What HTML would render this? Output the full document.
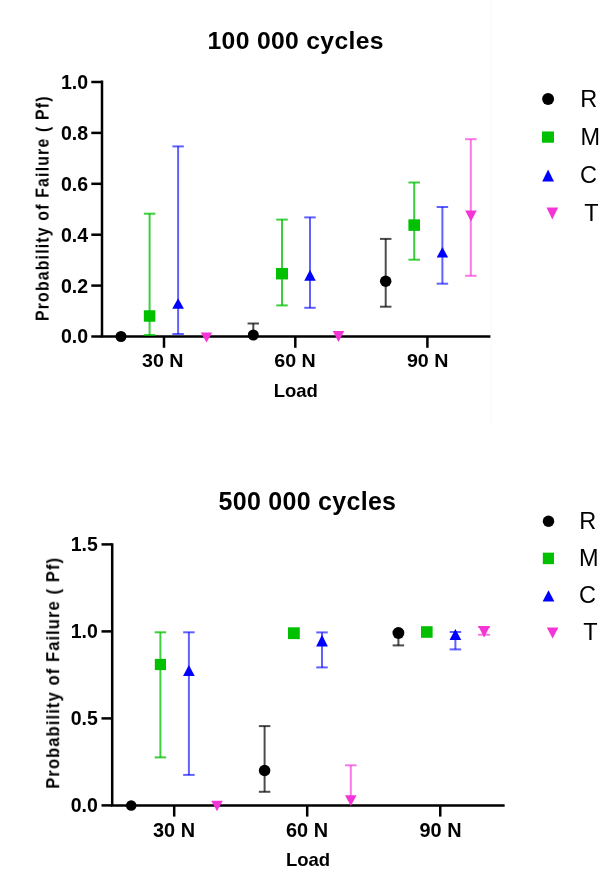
<!DOCTYPE html><html><head><meta charset="utf-8"><style>html,body{margin:0;padding:0;background:#fff;}svg{display:block;font-family:"Liberation Sans",sans-serif;}text{will-change:transform;}</style></head><body>
<svg width="600" height="869" viewBox="0 0 600 869">
<rect width="600" height="869" fill="#fff"/>
<rect x="490.3" y="0" width="1.5" height="424" fill="#fbfbfb"/>
<path d="M102,81.8V336.5H489.15" stroke="#000" stroke-width="2.5" fill="none" stroke-linecap="square"/>
<path d="M91.3,336.5H102" stroke="#000" stroke-width="2.5"/>
<text x="88.1" y="343.4" font-size="19.5" font-weight="bold" text-anchor="end">0.0</text>
<path d="M91.3,285.6H102" stroke="#000" stroke-width="2.5"/>
<text x="88.1" y="292.5" font-size="19.5" font-weight="bold" text-anchor="end">0.2</text>
<path d="M91.3,234.7H102" stroke="#000" stroke-width="2.5"/>
<text x="88.1" y="241.6" font-size="19.5" font-weight="bold" text-anchor="end">0.4</text>
<path d="M91.3,183.8H102" stroke="#000" stroke-width="2.5"/>
<text x="88.1" y="190.7" font-size="19.5" font-weight="bold" text-anchor="end">0.6</text>
<path d="M91.3,132.9H102" stroke="#000" stroke-width="2.5"/>
<text x="88.1" y="139.8" font-size="19.5" font-weight="bold" text-anchor="end">0.8</text>
<path d="M91.3,82H102" stroke="#000" stroke-width="2.5"/>
<text x="88.1" y="88.9" font-size="19.5" font-weight="bold" text-anchor="end">1.0</text>
<path d="M164,336.5V347.8" stroke="#000" stroke-width="2.5"/>
<path d="M295.3,336.5V347.8" stroke="#000" stroke-width="2.5"/>
<path d="M427.4,336.5V347.8" stroke="#000" stroke-width="2.5"/>
<text x="162.75" y="367.3" font-size="19" font-weight="bold" text-anchor="middle" textLength="41.5" lengthAdjust="spacingAndGlyphs">30 N</text>
<text x="295" y="367.3" font-size="19" font-weight="bold" text-anchor="middle" textLength="41.5" lengthAdjust="spacingAndGlyphs">60 N</text>
<text x="427.65" y="367.3" font-size="19" font-weight="bold" text-anchor="middle" textLength="41.5" lengthAdjust="spacingAndGlyphs">90 N</text>
<text x="295.75" y="396.5" font-size="18.5" font-weight="bold" text-anchor="middle">Load</text>
<text x="207.5" y="48.9" font-size="24.7" font-weight="bold" text-anchor="start" textLength="176" lengthAdjust="spacing">100 000 cycles</text>
<text transform="translate(48.6,321) rotate(-90) scale(0.9,1)" font-size="17.6" font-weight="bold" textLength="249.44" lengthAdjust="spacing">Probability of Failure ( Pf)</text>
<circle cx="548.1" cy="99.1" r="6" fill="#000000"/>
<rect x="542" y="131.45" width="12" height="11.3" fill="#00C000"/>
<polygon points="548.1,169.6 554,181.4 542.2,181.4" fill="#0000FF"/>
<polygon points="546.5,207.6 558.1,207.6 552.3,219.4" fill="#F434D6"/>
<text x="580.35" y="106.85" font-size="23.5" font-weight="normal" text-anchor="start">R</text>
<text x="580.45" y="144.65" font-size="23.5" font-weight="normal" text-anchor="start">M</text>
<text x="579.95" y="183" font-size="23.5" font-weight="normal" text-anchor="start">C</text>
<text x="584.35" y="221.3" font-size="23.5" font-weight="normal" text-anchor="start">T</text>
<circle cx="121" cy="336.5" r="5.5" fill="#000000"/>
<path d="M253.3,323.5V335" stroke="#000000" stroke-opacity="0.7" stroke-width="2.0"/>
<path d="M247.55,323.5H259.05" stroke="#000000" stroke-opacity="0.7" stroke-width="2.0"/>
<circle cx="253.3" cy="335" r="5.5" fill="#000000"/>
<path d="M385.7,238.9V306.7" stroke="#000000" stroke-opacity="0.7" stroke-width="2.0"/>
<path d="M379.95,238.9H391.45" stroke="#000000" stroke-opacity="0.7" stroke-width="2.0"/>
<path d="M379.95,306.7H391.45" stroke="#000000" stroke-opacity="0.7" stroke-width="2.0"/>
<circle cx="385.7" cy="281.3" r="5.75" fill="#000000"/>
<path d="M149.6,213.7V335" stroke="#00C000" stroke-opacity="0.76" stroke-width="2.0"/>
<path d="M143.85,213.7H155.35" stroke="#00C000" stroke-opacity="0.76" stroke-width="2.0"/>
<path d="M143.85,335H155.35" stroke="#00C000" stroke-opacity="0.76" stroke-width="2.0"/>
<rect x="143.85" y="310.25" width="11.5" height="11.5" fill="#00C000"/>
<path d="M282,219.6V305.4" stroke="#00C000" stroke-opacity="0.76" stroke-width="2.0"/>
<path d="M276.25,219.6H287.75" stroke="#00C000" stroke-opacity="0.76" stroke-width="2.0"/>
<path d="M276.25,305.4H287.75" stroke="#00C000" stroke-opacity="0.76" stroke-width="2.0"/>
<rect x="276" y="267.95" width="12" height="11.5" fill="#00C000"/>
<path d="M414.2,182.5V259.7" stroke="#00C000" stroke-opacity="0.76" stroke-width="2.0"/>
<path d="M408.45,182.5H419.95" stroke="#00C000" stroke-opacity="0.76" stroke-width="2.0"/>
<path d="M408.45,259.7H419.95" stroke="#00C000" stroke-opacity="0.76" stroke-width="2.0"/>
<rect x="408.4" y="219.35" width="11.6" height="11.5" fill="#00C000"/>
<path d="M178.1,146.4V334" stroke="#0000FF" stroke-opacity="0.62" stroke-width="2.0"/>
<path d="M172.35,146.4H183.85" stroke="#0000FF" stroke-opacity="0.62" stroke-width="2.0"/>
<path d="M172.35,334H183.85" stroke="#0000FF" stroke-opacity="0.62" stroke-width="2.0"/>
<polygon points="178.1,298.2 183.95,308.8 172.25,308.8" fill="#0000FF"/>
<path d="M310,217.4V307.8" stroke="#0000FF" stroke-opacity="0.62" stroke-width="2.0"/>
<path d="M304.25,217.4H315.75" stroke="#0000FF" stroke-opacity="0.62" stroke-width="2.0"/>
<path d="M304.25,307.8H315.75" stroke="#0000FF" stroke-opacity="0.62" stroke-width="2.0"/>
<polygon points="310,269.7 315.75,280.7 304.25,280.7" fill="#0000FF"/>
<path d="M442.4,207V283.7" stroke="#0000FF" stroke-opacity="0.62" stroke-width="2.0"/>
<path d="M436.65,207H448.15" stroke="#0000FF" stroke-opacity="0.62" stroke-width="2.0"/>
<path d="M436.65,283.7H448.15" stroke="#0000FF" stroke-opacity="0.62" stroke-width="2.0"/>
<polygon points="442.4,247 448.15,257.6 436.65,257.6" fill="#0000FF"/>
<polygon points="200.75,332.4 212.25,332.4 206.5,342.5" fill="#F434D6"/>
<polygon points="332.75,331 344.25,331 338.5,342" fill="#F434D6"/>
<path d="M470.8,139.2V275.8" stroke="#F434D6" stroke-opacity="0.66" stroke-width="2.0"/>
<path d="M465.05,139.2H476.55" stroke="#F434D6" stroke-opacity="0.66" stroke-width="2.0"/>
<path d="M465.05,275.8H476.55" stroke="#F434D6" stroke-opacity="0.66" stroke-width="2.0"/>
<polygon points="465.15,210.6 476.75,210.6 470.95,221.4" fill="#F434D6"/>
<path d="M112.2,544.4V805.4H503.4" stroke="#000" stroke-width="2.5" fill="none" stroke-linecap="square"/>
<path d="M101.5,805.4H112.2" stroke="#000" stroke-width="2.5"/>
<text x="97.8" y="812.2" font-size="19.5" font-weight="bold" text-anchor="end">0.0</text>
<path d="M101.5,718.4H112.2" stroke="#000" stroke-width="2.5"/>
<text x="97.8" y="725.2" font-size="19.5" font-weight="bold" text-anchor="end">0.5</text>
<path d="M101.5,631.4H112.2" stroke="#000" stroke-width="2.5"/>
<text x="97.8" y="638.2" font-size="19.5" font-weight="bold" text-anchor="end">1.0</text>
<path d="M101.5,544.4H112.2" stroke="#000" stroke-width="2.5"/>
<text x="97.8" y="551.2" font-size="19.5" font-weight="bold" text-anchor="end">1.5</text>
<path d="M174.2,805.4V816.6" stroke="#000" stroke-width="2.5"/>
<path d="M307.2,805.4V816.6" stroke="#000" stroke-width="2.5"/>
<path d="M440.25,805.4V816.6" stroke="#000" stroke-width="2.5"/>
<text x="174" y="836.8" font-size="19.5" font-weight="bold" text-anchor="middle" textLength="42" lengthAdjust="spacingAndGlyphs">30 N</text>
<text x="307" y="836.8" font-size="19.5" font-weight="bold" text-anchor="middle" textLength="42" lengthAdjust="spacingAndGlyphs">60 N</text>
<text x="440.5" y="836.8" font-size="19.5" font-weight="bold" text-anchor="middle" textLength="42" lengthAdjust="spacingAndGlyphs">90 N</text>
<text x="308" y="866.3" font-size="18.5" font-weight="bold" text-anchor="middle">Load</text>
<text x="218.5" y="509.5" font-size="25" font-weight="bold" text-anchor="start" textLength="177.5" lengthAdjust="spacing">500 000 cycles</text>
<text transform="translate(59.2,788.7) rotate(-90) scale(0.9,1)" font-size="18.4" font-weight="bold" textLength="256.44" lengthAdjust="spacing">Probability of Failure ( Pf)</text>
<circle cx="548.5" cy="521.3" r="5.75" fill="#000000"/>
<rect x="542.8" y="552.65" width="11.2" height="11.5" fill="#00C000"/>
<polygon points="548.5,590.2 554.4,601.6 542.6,601.6" fill="#0000FF"/>
<polygon points="546.8,627.6 558.4,627.6 552.6,638.5" fill="#F434D6"/>
<text x="579.35" y="529.3" font-size="23.5" font-weight="normal" text-anchor="start">R</text>
<text x="579.05" y="565.6" font-size="23.5" font-weight="normal" text-anchor="start">M</text>
<text x="579.05" y="603" font-size="23.5" font-weight="normal" text-anchor="start">C</text>
<text x="583.25" y="640.4" font-size="23.5" font-weight="normal" text-anchor="start">T</text>
<circle cx="131.2" cy="805.5" r="5.25" fill="#000000"/>
<path d="M264.6,726.1V791.8" stroke="#000000" stroke-opacity="0.7" stroke-width="2.0"/>
<path d="M258.85,726.1H270.35" stroke="#000000" stroke-opacity="0.7" stroke-width="2.0"/>
<path d="M258.85,791.8H270.35" stroke="#000000" stroke-opacity="0.7" stroke-width="2.0"/>
<circle cx="264.6" cy="770.5" r="5.75" fill="#000000"/>
<path d="M398.4,631.5V645.4" stroke="#000000" stroke-opacity="0.7" stroke-width="2.0"/>
<path d="M392.65,631.5H404.15" stroke="#000000" stroke-opacity="0.7" stroke-width="2.0"/>
<path d="M392.65,645.4H404.15" stroke="#000000" stroke-opacity="0.7" stroke-width="2.0"/>
<circle cx="398.4" cy="633" r="5.9" fill="#000000"/>
<path d="M160.4,632.3V757.4" stroke="#00C000" stroke-opacity="0.76" stroke-width="2.0"/>
<path d="M154.65,632.3H166.15" stroke="#00C000" stroke-opacity="0.76" stroke-width="2.0"/>
<path d="M154.65,757.4H166.15" stroke="#00C000" stroke-opacity="0.76" stroke-width="2.0"/>
<rect x="154.8" y="658.9" width="11.2" height="11.2" fill="#00C000"/>
<rect x="288" y="627.3" width="11.8" height="11.8" fill="#00C000"/>
<rect x="421" y="626.2" width="11.6" height="11.6" fill="#00C000"/>
<path d="M188.9,632.3V774.9" stroke="#0000FF" stroke-opacity="0.62" stroke-width="2.0"/>
<path d="M183.15,632.3H194.65" stroke="#0000FF" stroke-opacity="0.62" stroke-width="2.0"/>
<path d="M183.15,774.9H194.65" stroke="#0000FF" stroke-opacity="0.62" stroke-width="2.0"/>
<polygon points="188.9,664.9 194.75,676.1 183.05,676.1" fill="#0000FF"/>
<path d="M322,632.4V667.4" stroke="#0000FF" stroke-opacity="0.62" stroke-width="2.0"/>
<path d="M316.25,632.4H327.75" stroke="#0000FF" stroke-opacity="0.62" stroke-width="2.0"/>
<path d="M316.25,667.4H327.75" stroke="#0000FF" stroke-opacity="0.62" stroke-width="2.0"/>
<polygon points="322,634.8 327.85,646.5 316.15,646.5" fill="#0000FF"/>
<path d="M455.4,632V649.4" stroke="#0000FF" stroke-opacity="0.62" stroke-width="2.0"/>
<path d="M449.65,632H461.15" stroke="#0000FF" stroke-opacity="0.62" stroke-width="2.0"/>
<path d="M449.65,649.4H461.15" stroke="#0000FF" stroke-opacity="0.62" stroke-width="2.0"/>
<polygon points="455.4,629 461.25,640 449.55,640" fill="#0000FF"/>
<polygon points="211.25,800.7 222.75,800.7 217,811.3" fill="#F434D6"/>
<path d="M350.8,765.3V800" stroke="#F434D6" stroke-opacity="0.66" stroke-width="2.0"/>
<path d="M345.05,765.3H356.55" stroke="#F434D6" stroke-opacity="0.66" stroke-width="2.0"/>
<polygon points="345.05,795.3 356.55,795.3 350.8,806" fill="#F434D6"/>
<path d="M484.1,627V634.75" stroke="#F434D6" stroke-opacity="0.66" stroke-width="2.0"/>
<path d="M478.1,627H490.1" stroke="#F434D6" stroke-opacity="0.66" stroke-width="2.0"/>
<path d="M478.1,634.75H490.1" stroke="#F434D6" stroke-opacity="0.66" stroke-width="2.0"/>
<polygon points="478.25,626 489.95,626 484.1,637.5" fill="#F434D6"/>
</svg></body></html>
